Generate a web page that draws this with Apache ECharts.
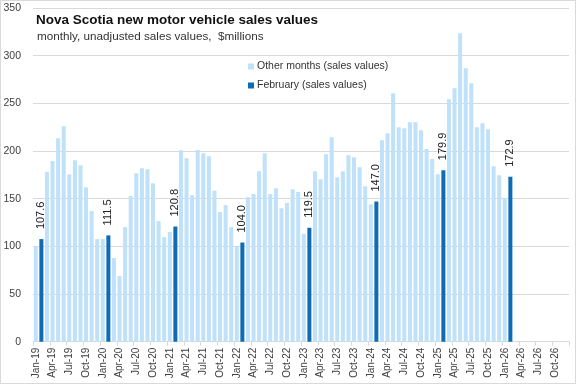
<!DOCTYPE html>
<html>
<head>
<meta charset="utf-8">
<script src="https://cdn.jsdelivr.net/npm/echarts@6/dist/echarts.min.js"></script>
<style>
html,body{margin:0;padding:0;background:#fff;}
#c{width:577px;height:385px;}
</style>
</head>
<body>
<div id="c"></div>
<script>
const categories = [
 'Jan-19','Feb-19','Mar-19','Apr-19','May-19','Jun-19','Jul-19','Aug-19','Sep-19','Oct-19','Nov-19','Dec-19',
 'Jan-20','Feb-20','Mar-20','Apr-20','May-20','Jun-20','Jul-20','Aug-20','Sep-20','Oct-20','Nov-20','Dec-20',
 'Jan-21','Feb-21','Mar-21','Apr-21','May-21','Jun-21','Jul-21','Aug-21','Sep-21','Oct-21','Nov-21','Dec-21',
 'Jan-22','Feb-22','Mar-22','Apr-22','May-22','Jun-22','Jul-22','Aug-22','Sep-22','Oct-22','Nov-22','Dec-22',
 'Jan-23','Feb-23','Mar-23','Apr-23','May-23','Jun-23','Jul-23','Aug-23','Sep-23','Oct-23','Nov-23','Dec-23',
 'Jan-24','Feb-24','Mar-24','Apr-24','May-24','Jun-24','Jul-24','Aug-24','Sep-24','Oct-24','Nov-24','Dec-24',
 'Jan-25','Feb-25','Mar-25','Apr-25','May-25','Jun-25','Jul-25','Aug-25','Sep-25','Oct-25','Nov-25','Dec-25',
 'Jan-26','Feb-26','Mar-26','Apr-26','May-26','Jun-26','Jul-26','Aug-26','Sep-26','Oct-26','Nov-26','Dec-26'
];
const otherMonths = [
 100.3,null,178.2,189.4,213.5,226.0,175.7,190.4,185.2,162.0,137.0,107.6,
 107.6,null,87.7,68.8,120.2,152.7,176.8,182.0,181.0,166.3,126.5,109.7,
 115.0,null,200.9,192.5,153.7,201.0,197.7,194.6,158.3,136.0,143.3,120.2,
 100.3,null,151.6,154.8,178.9,197.7,154.8,161.0,140.0,145.4,160.0,157.0,
 113.1,null,178.9,170.5,196.7,214.5,172.6,178.9,195.6,193.5,183.0,163.1,
 144.2,null,211.4,218.7,260.6,225.0,224.0,230.3,230.3,221.9,202.0,191.5,
 175.7,null,254.3,265.9,323.5,286.8,271.1,225.0,229.2,222.9,184.1,174.7,
 150.6,null,null,null,null,null,null,null,null,null,null,null
];
const february = [
 null,107.6,null,null,null,null,null,null,null,null,null,null,
 null,111.5,null,null,null,null,null,null,null,null,null,null,
 null,120.8,null,null,null,null,null,null,null,null,null,null,
 null,104.0,null,null,null,null,null,null,null,null,null,null,
 null,119.5,null,null,null,null,null,null,null,null,null,null,
 null,147.0,null,null,null,null,null,null,null,null,null,null,
 null,179.9,null,null,null,null,null,null,null,null,null,null,
 null,172.9,null,null,null,null,null,null,null,null,null,null
];
const yTicks = [0,50,100,150,200,250,300,350];

const FONT = 'Liberation Sans';
const chart = echarts.init(document.getElementById('c'), null, {renderer:'canvas'});
chart.setOption({
  animation:false,
  backgroundColor:'#ffffff',
  textStyle:{fontFamily:FONT},
  title:[
    {text:'Nova Scotia new motor vehicle sales values', left:31, top:8,
     textStyle:{fontFamily:FONT,fontSize:13.5,fontWeight:'bold',color:'#111'}},
    {text:'monthly, unadjusted sales values,  $millions', left:32, top:26,
     textStyle:{fontFamily:FONT,fontSize:11.7,fontWeight:'normal',color:'#333'}}
  ],
  graphic:[{type:'rect',shape:{x:0.5,y:0.5,width:575,height:383},
    style:{fill:'none',stroke:'#d9d9d9',lineWidth:1},silent:true,z:-1}],
  legend:{
    orient:'vertical', left:243, top:56, itemWidth:6, itemHeight:6, itemGap:8, icon:'rect',
    data:['Other months (sales values)','February (sales values)'],
    textStyle:{fontFamily:FONT,fontSize:10.5,color:'#333',padding:[0,0,0,-2]}
  },
  grid:{left:33,right:8,top:8,bottom:43.3,containLabel:false},
  xAxis:{
    type:'category', data:categories, boundaryGap:true,
    axisLine:{lineStyle:{color:'#d9d9d9'}},
    axisTick:{show:true,interval:2,length:4,lineStyle:{color:'#d9d9d9'}},
    axisLabel:{interval:2,rotate:90,fontSize:10,color:'#404040',margin:6,fontFamily:FONT}
  },
  yAxis:{
    type:'value', min:yTicks[0], max:yTicks[yTicks.length-1], interval:50,
    axisLine:{show:false}, axisTick:{show:false},
    splitLine:{lineStyle:{color:'#d9d9d9'}},
    axisLabel:{fontSize:10.5,color:'#404040',margin:12,fontFamily:FONT}
  },
  series:[
    {name:'Other months (sales values)', type:'bar', data:otherMonths,
     barCategoryGap:'28%', barGap:'-100%',
     itemStyle:{color:'#bfe1f9'}},
    {name:'February (sales values)', type:'bar', data:february,
     barCategoryGap:'28%', barGap:'-100%',
     itemStyle:{color:'#0e6cb6'},
     label:{show:true, position:'top', rotate:90, align:'left', verticalAlign:'middle',
       distance:10, fontSize:11, color:'#222', fontFamily:FONT,
       formatter:p=>p.value.toFixed(1)}}
  ]
});
</script>
</body>
</html>
